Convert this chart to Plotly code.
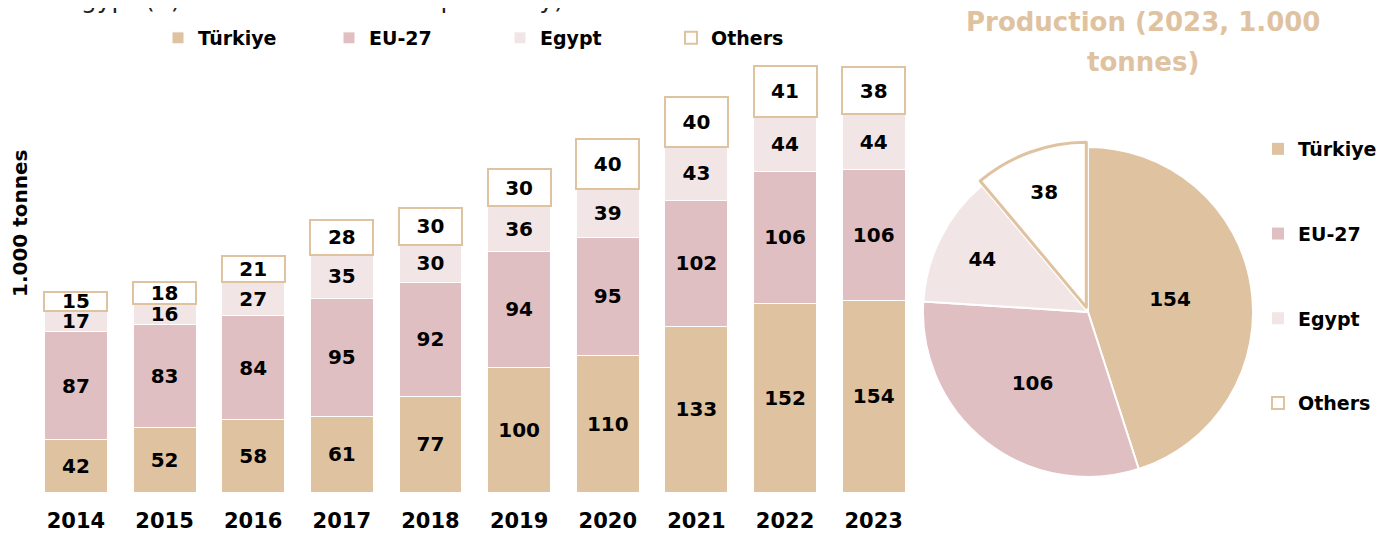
import plotly.graph_objects as go

years = ["2014", "2015", "2016", "2017", "2018", "2019", "2020", "2021", "2022", "2023"]
turkiye = [42, 52, 58, 61, 77, 100, 110, 133, 152, 154]
eu27 = [87, 83, 84, 95, 92, 94, 95, 102, 106, 106]
egypt = [17, 16, 27, 35, 30, 36, 39, 43, 44, 44]
others = [15, 18, 21, 28, 30, 30, 40, 40, 41, 38]

pie_labels = ["Türkiye", "EU-27", "Egypt", "Others"]
pie_values = [154, 106, 44, 38]

C_TUR = "#DFC2A0"
C_EU = "#E0BFC3"
C_EGY = "#F2E5E6"
C_OTH = "#FFFFFF"
C_LINE = "#DFC2A0"

FONT = "DejaVu Sans"
W, H = 1394, 535

fig = go.Figure()

series = [
    ("Türkiye", turkiye, C_TUR, "white", 1),
    ("EU-27", eu27, C_EU, "white", 1),
    ("Egypt", egypt, C_EGY, "white", 1),
    ("Others", others, C_OTH, C_LINE, 2),
]
for name, vals, col, lcol, lw in series:
    fig.add_trace(go.Bar(
        x=years, y=vals, name=name,
        marker=dict(color=col, line=dict(color=lcol, width=lw)),
        text=[str(v) for v in vals], textposition="inside",
        insidetextanchor="middle", constraintext="none",
        textfont=dict(family=FONT, size=20, color="black", weight="bold"),
        legend="legend", hoverinfo="x+y+name",
    ))

# legend entries for the pie (separate legend with custom spacing)
for (name, _, col, lcol, lw) in series:
    fig.add_trace(go.Bar(
        x=[None], y=[None], name=name,
        marker=dict(color=col, line=dict(color=lcol if name == "Others" else col,
                                         width=lw if name == "Others" else 0)),
        legend="legend2", legendgroup="pie_" + name, showlegend=True,
    ))

fig.add_trace(go.Pie(
    labels=pie_labels, values=pie_values, sort=False, direction="clockwise",
    rotation=0, pull=[0, 0, 0, 0.03],
    marker=dict(colors=[C_TUR, C_EU, C_EGY, C_OTH],
                line=dict(color=["white", "white", "white", C_LINE], width=[2, 2, 2, 3])),
    textinfo="value", textposition="inside", insidetextorientation="horizontal",
    textfont=dict(family=FONT, size=20, color="black", weight="bold"),
    domain=dict(x=[910 / W, 1250 / W], y=[61 / H, 401 / H]),
    showlegend=False,
))

fig.update_layout(
    width=W, height=H,
    margin=dict(l=0, r=0, t=0, b=0),
    paper_bgcolor="white", plot_bgcolor="white",
    barmode="stack", bargap=0.29,
    uniformtext=dict(minsize=20, mode="show"),
    font=dict(family=FONT, color="black"),
    xaxis=dict(domain=[23.6 / W, 910 / W], showgrid=False, zeroline=False, showline=False,
               ticks="", tickfont=dict(family=FONT, size=21, color="black", weight="bold"),
               ticklabelstandoff=14, fixedrange=True),
    yaxis=dict(domain=[51 / H, 483 / H], range=[0, 347.8], visible=False, fixedrange=True),
    legend=dict(orientation="h", x=150 / W, xanchor="left", y=1 - 11 / H, yanchor="top",
                entrywidth=126, entrywidthmode="pixels", traceorder="normal",
                font=dict(family=FONT, size=19, color="black", weight="bold"),
                bgcolor="rgba(0,0,0,0)"),
    legend2=dict(orientation="v", x=1250 / W, xanchor="left", y=1 - 122 / H, yanchor="top",
                 tracegroupgap=57, traceorder="grouped",
                 font=dict(family=FONT, size=19, color="black", weight="bold"),
                 bgcolor="rgba(0,0,0,0)"),
    showlegend=True,
)

fig.add_annotation(
    text="1.000 tonnes", textangle=-90, xref="paper", yref="paper",
    x=12 / W, y=1 - 216 / H, xanchor="center", yanchor="middle", showarrow=False,
    font=dict(family=FONT, size=20, color="black", weight="bold"),
)
fig.add_annotation(
    text="Production (2023, 1.000", xref="paper", yref="paper",
    x=1135 / W, y=1 - 14 / H, xanchor="center", yanchor="middle", showarrow=False,
    font=dict(family=FONT, size=26, color=C_TUR, weight="bold"),
)
fig.add_annotation(
    text="tonnes)", xref="paper", yref="paper",
    x=1135 / W, y=1 - 54 / H, xanchor="center", yanchor="middle", showarrow=False,
    font=dict(family=FONT, size=26, color=C_TUR, weight="bold"),
)
fig.add_annotation(
    text="Egypt (3) 188% and 137% respectively).", xref="paper", yref="paper",
    x=55 / W, y=1 - 8 / H, xanchor="left", yanchor="bottom", showarrow=False,
    font=dict(family=FONT, size=25, color="#222222"),
)

fig.write_html("out.html")
